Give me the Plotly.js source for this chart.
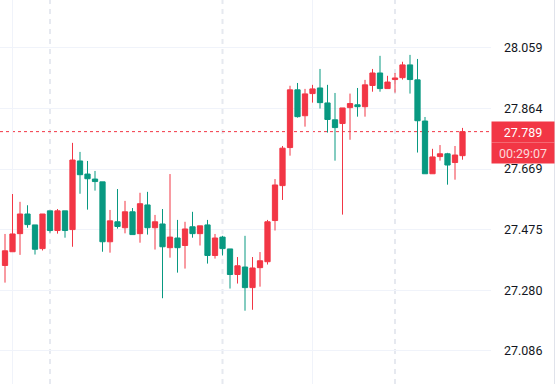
<!DOCTYPE html>
<html>
<head>
<meta charset="utf-8">
<script src="https://cdn.plot.ly/plotly-3.0.1.min.js"></script>
<style>html,body{margin:0;padding:0;background:#fff;}#chart{width:556px;height:384px;}</style>
</head>
<body>
<div id="chart"></div>
<script>
// ---- data ----
const openP  = [27.360,27.404,27.462,27.525,27.490,27.414,27.535,27.472,27.535,27.475,
                27.695,27.653,27.637,27.628,27.436,27.500,27.481,27.532,27.462,27.554,
                27.481,27.493,27.417,27.448,27.424,27.484,27.462,27.490,27.392,27.451,
                27.413,27.331,27.355,27.289,27.353,27.372,27.504,27.616,27.738,27.923,
                27.840,27.911,27.929,27.881,27.827,27.815,27.866,27.875,27.869,27.937,
                27.977,27.927,27.956,27.962,28.003,27.955,27.823,27.654,27.709,27.718,
                27.690,27.712];
const highP  = [27.461,27.589,27.564,27.553,27.490,27.525,27.535,27.541,27.535,27.753,
                27.724,27.695,27.663,27.628,27.538,27.605,27.567,27.544,27.593,27.596,
                27.522,27.541,27.653,27.506,27.500,27.532,27.487,27.506,27.461,27.455,
                27.413,27.387,27.455,27.387,27.403,27.506,27.637,27.743,27.936,27.945,
                27.926,27.939,27.990,27.939,27.913,27.865,27.911,27.929,27.955,27.990,
                28.032,27.968,27.977,28.013,28.035,28.022,27.836,27.734,27.746,27.721,
                27.743,27.801];
const lowP   = [27.305,27.404,27.394,27.481,27.395,27.408,27.465,27.462,27.449,27.420,
                27.590,27.539,27.600,27.404,27.401,27.478,27.463,27.459,27.433,27.459,
                27.411,27.255,27.385,27.337,27.350,27.449,27.424,27.366,27.382,27.392,
                27.286,27.302,27.215,27.218,27.292,27.363,27.472,27.570,27.712,27.834,
                27.805,27.882,27.863,27.786,27.696,27.523,27.763,27.837,27.837,27.917,
                27.917,27.927,27.914,27.956,27.911,27.722,27.654,27.654,27.696,27.619,
                27.635,27.699];
const closeP = [27.407,27.461,27.525,27.491,27.412,27.525,27.472,27.535,27.472,27.698,
                27.651,27.638,27.629,27.436,27.503,27.485,27.532,27.459,27.558,27.481,
                27.500,27.420,27.451,27.417,27.477,27.462,27.487,27.392,27.448,27.414,
                27.331,27.359,27.289,27.352,27.375,27.500,27.618,27.736,27.923,27.837,
                27.910,27.926,27.882,27.828,27.802,27.865,27.879,27.869,27.939,27.977,
                27.927,27.948,27.961,28.003,27.956,27.824,27.654,27.708,27.718,27.682,
                27.714,27.789];
const priceTicks = [27.086, 27.280, 27.475, 27.669, 27.864, 28.059];
const priceTickText = ["27.086", "27.280", "27.475", "27.669", "27.864", "28.059"];
const gridBars = [1, 41];          // bars carrying a solid vertical grid line
const sessionBreaks = [6, 29, 52]; // bars carrying a dashed session-break line
const countdown = "00:29:07";

// ---- chart ----
const UP = '#F23645', DOWN = '#089981';
const W = 556, H = 384, R = 65;
const barIdx = closeP.map((_, i) => i);
const last = closeP[closeP.length - 1];

const trace = {
  type: 'candlestick',
  x: barIdx, open: openP, high: highP, low: lowP, close: closeP,
  increasing: {line: {color: UP, width: 1}, fillcolor: UP},
  decreasing: {line: {color: DOWN, width: 1}, fillcolor: DOWN},
  whiskerwidth: 0,
  hoverinfo: 'skip',
  showlegend: false
};

const shapes = sessionBreaks.map(b => ({
  type: 'line', xref: 'x', yref: 'paper', x0: b, x1: b, y0: 0, y1: 1,
  line: {color: '#e6e9f0', width: 2, dash: '5px,5px'}, layer: 'below'
}));
shapes.push({
  type: 'line', xref: 'paper', yref: 'y', x0: 0, x1: 1, y0: last, y1: last,
  line: {color: UP, width: 1, dash: 'dot'}, layer: 'below'
});
shapes.push({
  type: 'line', xref: 'paper', yref: 'paper', x0: (W - 1.5) / (W - R), x1: (W - 1.5) / (W - R), y0: 0, y1: 1,
  line: {color: '#e0e3eb', width: 1}
});

const lblFont = {family: 'Roboto, sans-serif', size: 12.5};
const annotations = [
  {xref: 'paper', yref: 'y', x: 1, y: last, xanchor: 'left', yanchor: 'middle',
   text: last.toFixed(3), showarrow: false, bgcolor: UP, borderpad: 0,
   width: 62, height: 20, align: 'center', font: Object.assign({color: '#ffffff'}, lblFont)},
  {xref: 'paper', yref: 'y', x: 1, y: last, xanchor: 'left', yanchor: 'middle', yshift: -21,
   text: countdown, showarrow: false, bgcolor: UP, borderpad: 0,
   width: 62, height: 20, align: 'center', font: Object.assign({color: 'rgba(255,255,255,0.82)'}, lblFont)}
];

const layout = {
  width: W, height: H,
  margin: {l: 0, r: R, t: 0, b: 0, pad: 0},
  paper_bgcolor: '#ffffff', plot_bgcolor: '#ffffff',
  showlegend: false,
  boxgap: 0.3, boxgroupgap: 0,
  xaxis: {
    range: [-0.667, 64.8], rangeslider: {visible: false},
    tickvals: gridBars, showticklabels: false, ticks: '',
    showgrid: true, gridcolor: '#f0f3fa', gridwidth: 1,
    zeroline: false, showline: false, fixedrange: true
  },
  yaxis: {
    side: 'right', range: [26.980, 28.211],
    tickvals: priceTicks, ticktext: priceTickText,
    showgrid: true, gridcolor: '#f0f3fa', gridwidth: 1,
    zeroline: false, showline: false, ticks: '', ticklabelstandoff: 12,
    tickfont: {family: 'Roboto, sans-serif', size: 12.5, color: '#131722'},
    fixedrange: true
  },
  shapes: shapes,
  annotations: annotations,
  hovermode: false
};

Plotly.newPlot('chart', [trace], layout, {displayModeBar: false, staticPlot: true});
</script>
</body>
</html>
